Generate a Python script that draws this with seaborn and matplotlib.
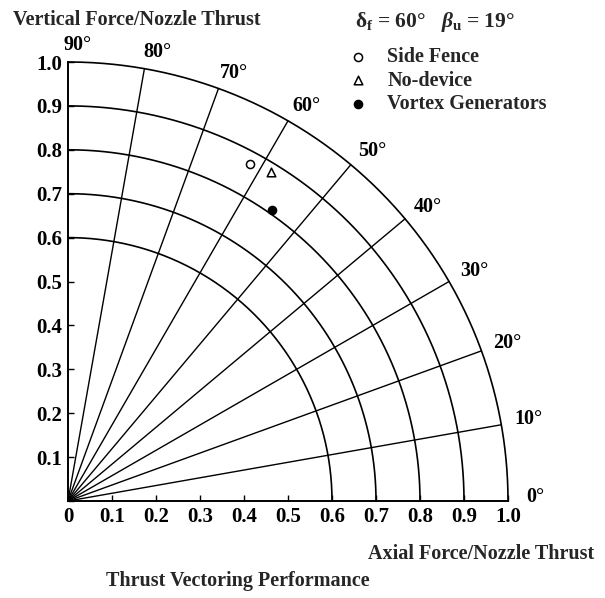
import numpy as np
import pandas as pd
import matplotlib
matplotlib.use("Agg")
import matplotlib.pyplot as plt
import seaborn as sns

# Measured points (axial and vertical force, each divided by nozzle thrust)
series = ["Side Fence", "No-device", "Vortex Generators"]
axial = [0.414, 0.461, 0.464]
vertical = [0.768, 0.750, 0.663]
marker_shapes = ["o", "^", "o"]
marker_filled = [False, False, True]

# Polar reference grid
radii = [0.6, 0.7, 0.8, 0.9, 1.0]
angles_deg = [0, 10, 20, 30, 40, 50, 60, 70, 80, 90]

# Axis ticks
tick_values = [0, 0.1, 0.2, 0.3, 0.4, 0.5, 0.6, 0.7, 0.8, 0.9, 1.0]
x_tick_labels = ["0", "0.1", "0.2", "0.3", "0.4", "0.5", "0.6", "0.7", "0.8", "0.9", "1.0"]
y_tick_labels = ["", "0.1", "0.2", "0.3", "0.4", "0.5", "0.6", "0.7", "0.8", "0.9", "1.0"]

sns.set_theme(style="ticks")
plt.rcParams["font.family"] = ["Liberation Serif", "DejaVu Serif"]
plt.rcParams["font.weight"] = "bold"
plt.rcParams["mathtext.fontset"] = "custom"
plt.rcParams["mathtext.rm"] = "Liberation Serif:bold"
plt.rcParams["mathtext.it"] = "Liberation Serif:bold:italic"
plt.rcParams["mathtext.bf"] = "Liberation Serif:bold"

FS = 14.5
fig = plt.figure(figsize=(6.05, 5.98), dpi=100)
ax = fig.add_axes([68 / 605, 97 / 598, 440 / 605, 439 / 598])
ax.set_xlim(0, 1.0)
ax.set_ylim(0, 1.0)

# Arcs of constant resultant force
theta = np.linspace(0, np.pi / 2, 200)
for r in radii:
    ax.plot(r * np.cos(theta), r * np.sin(theta), color="black", lw=1.2,
            clip_on=False, zorder=2)

# Rays of constant vectoring angle
for a in angles_deg[1:-1]:
    t = np.deg2rad(a)
    ax.plot([0, np.cos(t)], [0, np.sin(t)], color="black", lw=1.0,
            clip_on=False, zorder=2)

# Angle labels outside the outer arc
for a in angles_deg:
    t = np.deg2rad(a)
    ax.text(1.04 * np.cos(t) + 0.022, 1.03 * np.sin(t) + 0.008, f"{a}°",
            ha="center", va="center", fontsize=FS, color="black", clip_on=False)

df = pd.DataFrame({"axial": axial, "vertical": vertical, "series": series})
for name, m, fill in zip(series, marker_shapes, marker_filled):
    sub = df[df["series"] == name]
    sns.scatterplot(data=sub, x="axial", y="vertical", ax=ax, marker=m,
                    s=38 if m == "^" else 34,
                    facecolor="black" if fill else "white",
                    edgecolor="black", linewidth=1.1, label=name, zorder=5)

ax.set_xticks(tick_values)
ax.set_xticklabels(x_tick_labels)
ax.set_yticks(tick_values)
ax.set_yticklabels(y_tick_labels)
ax.tick_params(direction="in", length=4, width=1.0, colors="black",
               labelsize=15, pad=4)
for s in ["top", "right"]:
    ax.spines[s].set_visible(False)
for s in ["left", "bottom"]:
    ax.spines[s].set_color("black")
    ax.spines[s].set_linewidth(1.4)
ax.set_xlabel("")
ax.set_ylabel("")

fig.text(13 / 605, 1 - 20 / 598, "Vertical Force/Nozzle Thrust",
         ha="left", va="center", fontsize=FS)
fig.text(594 / 605, 1 - 554 / 598, "Axial Force/Nozzle Thrust",
         ha="right", va="center", fontsize=FS)
fig.text(238 / 605, 1 - 581 / 598, "Thrust Vectoring Performance",
         ha="center", va="center", fontsize=FS)
fig.text(355 / 605, 1 - 22 / 598,
         r"$\mathrm{\delta}_{\mathrm{f}}$ = 60°   $\beta_{\mathrm{u}}$ = 19°",
         ha="left", va="center", fontsize=15.5)

ax.legend(loc="upper left", bbox_to_anchor=(346 / 605, 1 - 47 / 598),
          bbox_transform=fig.transFigure, frameon=False, fontsize=FS,
          handletextpad=0.85, labelspacing=0.18, borderpad=0, handlelength=1.2,
          borderaxespad=0)

fig.savefig("out.png", dpi=100)
